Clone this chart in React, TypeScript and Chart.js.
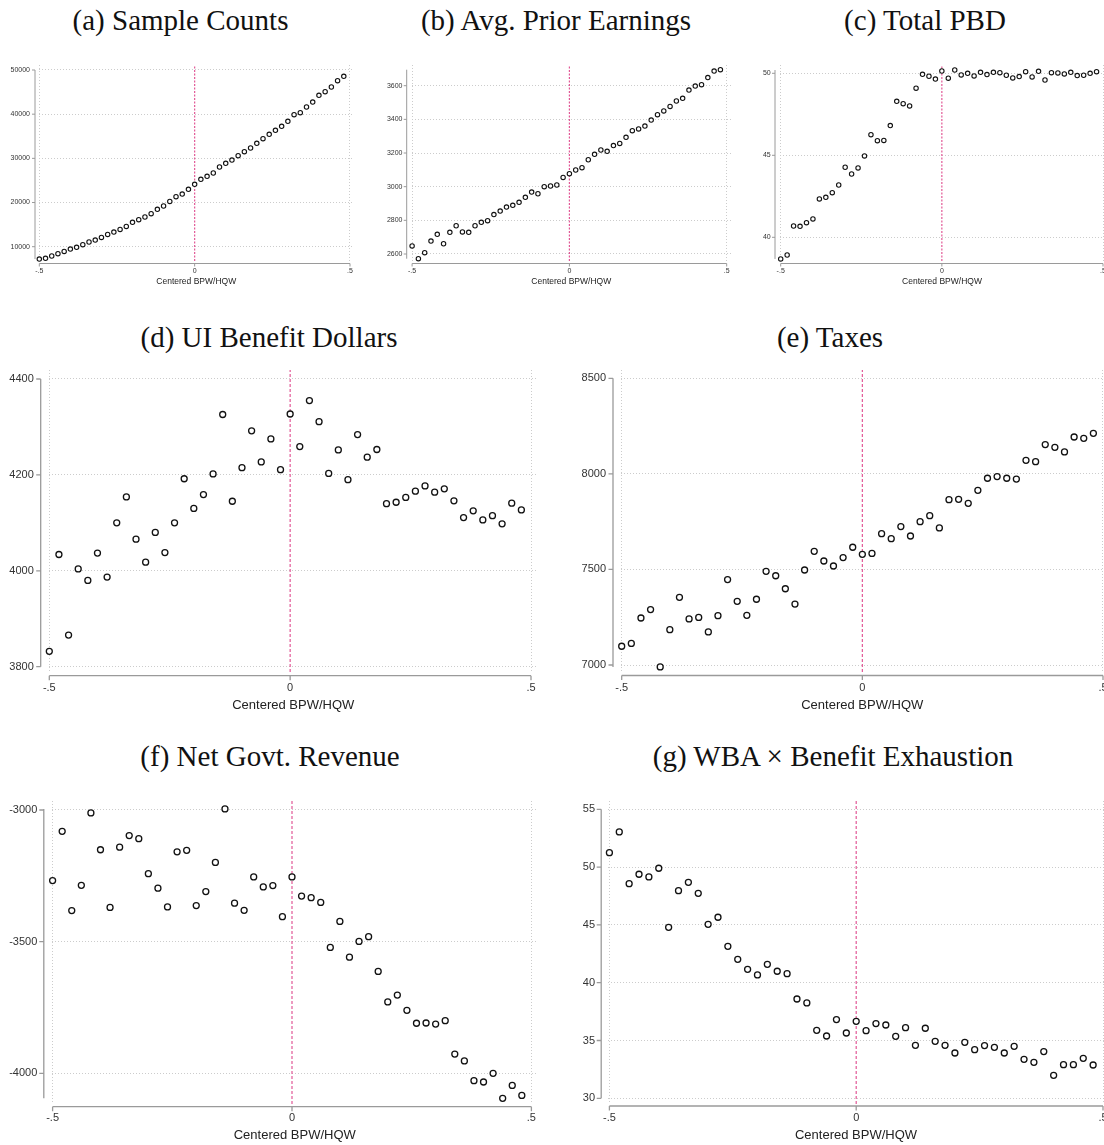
import React, { useEffect, useRef } from "react";
import { Chart, registerables } from "chart.js";

Chart.register(...registerables);

// ---------- DATA ----------
const binCenters = [
  -0.5, -0.48, -0.46, -0.44, -0.42, -0.4, -0.38, -0.36, -0.34, -0.32,
  -0.3, -0.28, -0.26, -0.24, -0.22, -0.2, -0.18, -0.16, -0.14, -0.12,
  -0.1, -0.08, -0.06, -0.04, -0.02, 0, 0.02, 0.04, 0.06, 0.08,
  0.1, 0.12, 0.14, 0.16, 0.18, 0.2, 0.22, 0.24, 0.26, 0.28,
  0.3, 0.32, 0.34, 0.36, 0.38, 0.4, 0.42, 0.44, 0.46, 0.48,
];
const xTickValues = [-0.5, 0, 0.5];
const xTickLabels = ["-.5", "0", ".5"];
const xAxisTitle = "Centered BPW/HQW";

const sampleCounts = [
  7200, 7360, 7890, 8420, 8940, 9470, 9850, 10450, 11060, 11510,
  12110, 12790, 13320, 13920, 14600, 15510, 16110, 16720, 17470, 18450,
  19210, 20260, 21320, 21920, 22980, 24110, 25250, 25920, 26680, 28040,
  28870, 29620, 30600, 31510, 32340, 33400, 34450, 35430, 36340, 37250,
  38380, 39890, 40340, 41620, 42750, 44260, 45090, 46150, 47580, 48570,
];
const priorEarnings = [
  2648, 2572, 2608, 2677, 2717, 2661, 2729, 2768, 2731, 2729,
  2768, 2788, 2798, 2834, 2855, 2879, 2889, 2907, 2937, 2968,
  2958, 3000, 3004, 3010, 3055, 3077, 3099, 3113, 3160, 3192,
  3218, 3210, 3244, 3257, 3293, 3333, 3343, 3360, 3396, 3428,
  3450, 3477, 3509, 3525, 3574, 3598, 3606, 3648, 3687, 3695,
];
const totalPBD = [
  38.68, 38.92, 40.69, 40.67, 40.89, 41.12, 42.34, 42.44, 42.72, 43.19,
  44.27, 43.86, 44.23, 44.96, 46.26, 45.89, 45.91, 46.81, 48.29, 48.15,
  48.01, 49.09, 49.94, 49.82, 49.65, 50.14, 49.7, 50.2, 49.9, 50.0,
  49.84, 50.06, 49.92, 50.06, 50.04, 49.88, 49.72, 49.8, 50.1, 49.78,
  50.12, 49.59, 50.04, 50.02, 49.96, 50.06, 49.86, 49.88, 50.0, 50.1,
];
const uiBenefit = [
  3832, 4034, 3866, 4004, 3980, 4037, 3987, 4100, 4154, 4066,
  4018, 4080, 4038, 4100, 4192, 4130, 4159, 4202, 4326, 4145,
  4215, 4292, 4227, 4275, 4211, 4327, 4259, 4355, 4311, 4203,
  4252, 4190, 4284, 4237, 4253, 4140, 4143, 4153, 4166, 4177,
  4164, 4171, 4146, 4111, 4125, 4106, 4115, 4098, 4141, 4127,
];
const taxes = [
  7098, 7113, 7246, 7290, 6990, 7185, 7354, 7241, 7249, 7173,
  7258, 7447, 7333, 7260, 7344, 7490, 7467, 7399, 7319, 7497,
  7595, 7544, 7518, 7562, 7616, 7579, 7584, 7687, 7661, 7724,
  7675, 7750, 7781, 7717, 7865, 7867, 7846, 7914, 7977, 7986,
  7977, 7973, 8071, 8064, 8153, 8139, 8115, 8193, 8186, 8212,
];
const netRevenue = [
  -3268, -3081, -3382, -3286, -3011, -3151, -3370, -3141, -3097, -3109,
  -3242, -3297, -3368, -3159, -3153, -3363, -3310, -3199, -2996, -3354,
  -3381, -3254, -3292, -3287, -3405, -3254, -3327, -3333, -3351, -3522,
  -3423, -3559, -3499, -3481, -3613, -3729, -3703, -3761, -3810, -3809,
  -3813, -3800, -3927, -3953, -4028, -4033, -4000, -4095, -4046, -4084,
];
const wbaExhaustion = [
  51.25, 53.04, 48.57, 49.38, 49.15, 49.9, 44.79, 47.96, 48.68, 47.73,
  45.05, 45.66, 43.15, 42.02, 41.16, 40.67, 41.59, 40.99, 40.78, 38.59,
  38.25, 35.88, 35.39, 36.81, 35.65, 36.66, 35.85, 36.46, 36.34, 35.36,
  36.11, 34.58, 36.06, 34.93, 34.58, 33.92, 34.84, 34.21, 34.56, 34.41,
  33.92, 34.5, 33.37, 33.11, 34.04, 31.99, 32.91, 32.91, 33.46, 32.88,
];

const yTicksSample = [10000, 20000, 30000, 40000, 50000];
const yTicksEarnings = [2600, 2800, 3000, 3200, 3400, 3600];
const yTicksPBD = [40, 45, 50];
const yTicksBenefit = [3800, 4000, 4200, 4400];
const yTicksTaxes = [7000, 7500, 8000, 8500];
const yTicksRevenue = [-4000, -3500, -3000];
const yTicksWBA = [30, 35, 40, 45, 50, 55];

const panelTitles = [
  "(a) Sample Counts",
  "(b) Avg. Prior Earnings",
  "(c) Total PBD",
  "(d) UI Benefit Dollars",
  "(e) Taxes",
  "(f) Net Govt. Revenue",
  "(g) WBA \u00d7 Benefit Exhaustion",
];

// ---------- STYLE / LAYOUT ----------
const SANS = '"Liberation Sans", Arial, Helvetica, sans-serif';
const SERIF = '"Liberation Serif", "Times New Roman", serif';
const GRID_COLOR = "#cccccc";
const AXIS_COLOR = "#9a9a9a";
const TICK_COLOR = "#333333";
const RED = "rgb(226, 88, 150)";

type PanelCfg = {
  key: string;
  title: string;
  titleCX: number;
  titleBase: number;
  values: number[];
  yTicks: number[];
  canvas: [number, number, number, number];
  area: { L: number; T: number; R: number; B: number };
  xPx: [number, number];
  yPx: [number, number];
  yAxisX: number;
  xAxisY: number;
  small: boolean;
  yPad: number;
  xPad: number;
  titlePad: number;
};

const panels: PanelCfg[] = [
  {
    key: "a", title: panelTitles[0], titleCX: 180.5, titleBase: 30,
    values: sampleCounts, yTicks: yTicksSample,
    canvas: [0, 45, 370, 250], area: { L: 38.5, T: 65, R: 354, B: 261 },
    xPx: [39.3, 350], yPx: [246.7, 70], yAxisX: 35, xAxisY: 263.5,
    small: true, yPad: 8.5, xPad: 5.8, titlePad: 7.9,
  },
  {
    key: "b", title: panelTitles[1], titleCX: 556, titleBase: 30,
    values: priorEarnings, yTicks: yTicksEarnings,
    canvas: [370, 45, 370, 250], area: { L: 411.5, T: 65, R: 731, B: 261 },
    xPx: [412.1, 726.7], yPx: [254, 85.7], yAxisX: 406.7, xAxisY: 263.5,
    small: true, yPad: 9, xPad: 5.8, titlePad: 7.9,
  },
  {
    key: "c", title: panelTitles[2], titleCX: 925, titleBase: 30,
    values: totalPBD, yTicks: yTicksPBD,
    canvas: [740, 45, 364, 250], area: { L: 780, T: 65, R: 1104, B: 261 },
    xPx: [780.7, 1103], yPx: [237.3, 73.3], yAxisX: 775, xAxisY: 263.5,
    small: true, yPad: 9.3, xPad: 5.8, titlePad: 7.9,
  },
  {
    key: "d", title: panelTitles[3], titleCX: 269, titleBase: 347,
    values: uiBenefit, yTicks: yTicksBenefit,
    canvas: [0, 355, 552, 365], area: { L: 48.5, T: 370, R: 538, B: 672 },
    xPx: [49.3, 531], yPx: [666.7, 379], yAxisX: 40.7, xAxisY: 675.7,
    small: false, yPad: 14.7, xPad: 8.9, titlePad: 7.2,
  },
  {
    key: "e", title: panelTitles[4], titleCX: 830, titleBase: 347,
    values: taxes, yTicks: yTicksTaxes,
    canvas: [552, 355, 552, 365], area: { L: 620.5, T: 370, R: 1104, B: 672 },
    xPx: [621.7, 1103], yPx: [665, 378.3], yAxisX: 613, xAxisY: 675.5,
    small: false, yPad: 14.5, xPad: 8.9, titlePad: 7.2,
  },
  {
    key: "f", title: panelTitles[5], titleCX: 270, titleBase: 766,
    values: netRevenue, yTicks: yTicksRevenue,
    canvas: [0, 775, 552, 370], area: { L: 51.5, T: 801, R: 538, B: 1104 },
    xPx: [52.6, 531.4], yPx: [1073.3, 810], yAxisX: 43.8, xAxisY: 1106.7,
    small: false, yPad: 14.2, xPad: 7.4, titlePad: 2.2,
  },
  {
    key: "g", title: panelTitles[6], titleCX: 833, titleBase: 766,
    values: wbaExhaustion, yTicks: yTicksWBA,
    canvas: [552, 775, 552, 370], area: { L: 608, T: 801, R: 1104, B: 1104 },
    xPx: [609.4, 1103], yPx: [1098.3, 809.3], yAxisX: 601.2, xAxisY: 1106,
    small: false, yPad: 12.9, xPad: 7.4, titlePad: 2.2,
  },
];

function Panel({ p }: { p: PanelCfg }) {
  const ref = useRef<HTMLCanvasElement>(null);
  const [cx, cy, cw, ch] = p.canvas;

  useEffect(() => {
    if (!ref.current) return;
    const { L, T, R, B } = p.area;
    const kx = p.xPx[1] - p.xPx[0];
    const xmin = xTickValues[0] - (p.xPx[0] - L) / kx;
    const xmax = xTickValues[2] + (R - p.xPx[1]) / kx;
    const lo = p.yTicks[0];
    const hi = p.yTicks[p.yTicks.length - 1];
    const ky = (p.yPx[0] - p.yPx[1]) / (hi - lo);
    const ymin = lo - (B - p.yPx[0]) / ky;
    const ymax = hi + (p.yPx[1] - T) / ky;
    const dMin = Math.min(...p.values);
    const dMax = Math.max(...p.values);
    const axisLo = Math.min(lo, dMin);
    const axisHi = Math.max(hi, dMax);
    const s = p.small;
    const tickFont = { family: SANS, size: s ? 7 : 11 };

    const axesPlugin = {
      id: "stataAxes",
      beforeDatasetsDraw(chart: any) {
        const ctx = chart.ctx;
        const xs = chart.scales.x;
        const ys = chart.scales.y;
        const ax = p.yAxisX - cx;
        const ay = p.xAxisY - cy;
        const tl = s ? 3 : 4.5;
        ctx.save();
        ctx.strokeStyle = AXIS_COLOR;
        ctx.lineWidth = s ? 1 : 1.3;
        ctx.setLineDash([]);
        ctx.beginPath();
        ctx.moveTo(ax, ys.getPixelForValue(axisHi));
        ctx.lineTo(ax, ys.getPixelForValue(axisLo));
        for (const v of p.yTicks) {
          const py = ys.getPixelForValue(v);
          ctx.moveTo(ax - tl, py);
          ctx.lineTo(ax, py);
        }
        const x0 = xs.getPixelForValue(xTickValues[0]);
        const x1 = xs.getPixelForValue(xTickValues[xTickValues.length - 1]);
        ctx.moveTo(x0, ay);
        ctx.lineTo(x1, ay);
        for (const v of xTickValues) {
          const px = xs.getPixelForValue(v);
          ctx.moveTo(px, ay);
          ctx.lineTo(px, ay + tl);
        }
        ctx.stroke();
        ctx.restore();
      },
    };

    const chart = new Chart(ref.current, {
      type: "scatter",
      data: {
        datasets: [
          {
            data: binCenters.map((x, i) => ({ x, y: p.values[i] })),
            pointStyle: "circle",
            pointRadius: s ? 2.2 : 3,
            pointBorderWidth: s ? 1.1 : 1.3,
            pointBackgroundColor: "#ffffff",
            pointBorderColor: "#111111",
            showLine: false,
            clip: false,
            order: 0,
          },
          {
            data: [
              { x: 0, y: ymin },
              { x: 0, y: ymax },
            ],
            showLine: true,
            borderColor: RED,
            borderWidth: 1.2,
            borderDash: s ? [2, 1.5] : [3, 2],
            pointRadius: 0,
            clip: false,
            order: 1,
          },
        ],
      },
      options: {
        animation: false,
        responsive: false,
        events: [],
        layout: {
          autoPadding: false,
          padding: { left: 0, bottom: 0, top: T - cy, right: cx + cw - R },
        },
        plugins: {
          legend: { display: false },
          tooltip: { enabled: false },
        },
        scales: {
          x: {
            type: "linear",
            position: "bottom",
            min: xmin,
            max: xmax,
            afterBuildTicks: (sc: any) => {
              sc.ticks = xTickValues.map((v) => ({ value: v }));
            },
            afterFit: (sc: any) => {
              sc.height = cy + ch - B;
              sc.paddingLeft = 0;
              sc.paddingRight = 0;
            },
            ticks: {
              autoSkip: false,
              maxRotation: 0,
              minRotation: 0,
              padding: p.xPad,
              font: tickFont,
              color: TICK_COLOR,
              callback: (v: any) => {
                const i = xTickValues.indexOf(Number(v));
                return i >= 0 ? xTickLabels[i] : "";
              },
            },
            grid: {
              color: (c: any) =>
                c.tick && c.tick.value === 0 ? "rgba(0,0,0,0)" : GRID_COLOR,
              lineWidth: 1,
              drawTicks: false,
            },
            border: { display: false, dash: [1, 2] },
            title: {
              display: true,
              text: xAxisTitle,
              font: { family: SANS, size: s ? 8.5 : 13 },
              color: "#222222",
              padding: { top: 0, bottom: p.titlePad },
            },
          },
          y: {
            type: "linear",
            position: "left",
            min: ymin,
            max: ymax,
            afterBuildTicks: (sc: any) => {
              sc.ticks = p.yTicks.map((v) => ({ value: v }));
            },
            afterFit: (sc: any) => {
              sc.width = L - cx;
              sc.paddingTop = 0;
              sc.paddingBottom = 0;
            },
            ticks: {
              autoSkip: false,
              padding: p.yPad,
              font: tickFont,
              color: TICK_COLOR,
              callback: (v: any) => String(v),
            },
            grid: { color: GRID_COLOR, lineWidth: 1, drawTicks: false },
            border: { display: false, dash: [1, 2] },
          },
        },
      },
      plugins: [axesPlugin],
    } as any);
    return () => chart.destroy();
  }, [p]);

  return (
    <canvas
      ref={ref}
      width={cw}
      height={ch}
      style={{ position: "absolute", left: cx, top: cy, width: cw, height: ch }}
    />
  );
}

export default function App() {
  useEffect(() => {
    document.body.style.margin = "0";
    document.body.style.overflow = "hidden";
    document.documentElement.style.overflow = "hidden";
  }, []);
  return (
    <div
      style={{
        position: "absolute",
        left: 0,
        top: 0,
        width: 1104,
        height: 1145,
        overflow: "hidden",
        background: "#ffffff",
      }}
    >
      {panels.map((p) => (
        <React.Fragment key={p.key}>
          <div
            style={{
              position: "absolute",
              left: p.titleCX - 300,
              width: 600,
              top: p.titleBase - 24.3,
              textAlign: "center",
              fontFamily: SERIF,
              fontSize: 29,
              lineHeight: "29px",
              color: "#111111",
              whiteSpace: "nowrap",
            }}
          >
            {p.title}
          </div>
          <Panel p={p} />
        </React.Fragment>
      ))}
    </div>
  );
}
